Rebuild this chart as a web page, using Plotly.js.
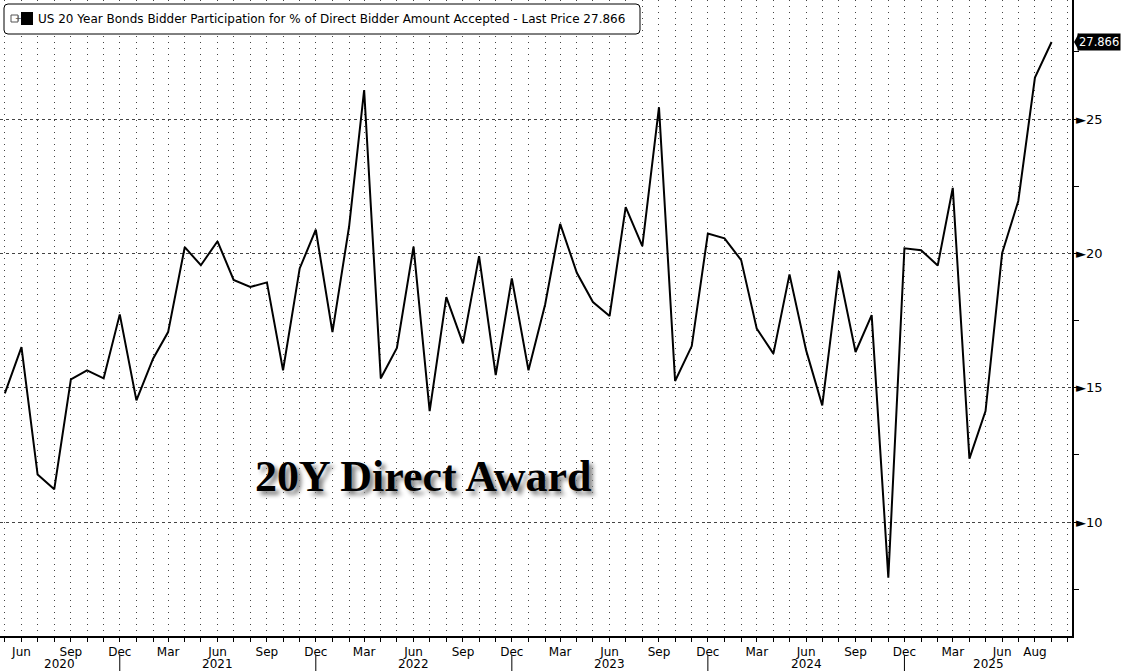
<!DOCTYPE html>
<html>
<head>
<meta charset="utf-8">
<script src="https://cdn.plot.ly/plotly-3.0.1.min.js"></script>
<style>
html,body{margin:0;padding:0;background:#fff;}
#chart{width:1122px;height:671px;}
</style>
</head>
<body>
<div id="chart"></div>
<script>
// ---- Data ----
const startYear = 2020, startMonth = 5; // first observation: May 2020
const values = [14.79,16.51,11.77,11.22,15.31,15.65,15.35,17.73,14.53,16.08,
  17.07,20.23,19.56,20.45,19.01,18.75,18.92,15.65,19.44,20.88,
  17.07,21.0,26.08,15.35,16.48,20.25,14.13,18.37,16.65,19.90,
  15.47,19.07,15.65,18.10,21.10,19.28,18.19,17.67,21.72,20.27,
  25.44,15.25,16.55,20.74,20.56,19.75,17.20,16.27,19.22,16.39,
  14.34,19.34,16.33,17.70,7.93,20.19,20.12,19.55,22.44,12.36,
  14.13,20.02,21.95,26.54,27.866];
const tickDates = ['2020-06-01','2020-09-01','2020-12-01','2021-03-01','2021-06-01','2021-09-01','2021-12-01',
  '2022-03-01','2022-06-01','2022-09-01','2022-12-01','2023-03-01','2023-06-01','2023-09-01','2023-12-01',
  '2024-03-01','2024-06-01','2024-09-01','2024-12-01','2025-03-01','2025-06-01','2025-08-01'];
const tickLabels = ['Jun','Sep','Dec','Mar','Jun','Sep','Dec','Mar','Jun','Sep','Dec','Mar','Jun','Sep','Dec',
  'Mar','Jun','Sep','Dec','Mar','Jun','Aug'];
const yearLabels = ['2020','2021','2022','2023','2024','2025'];
const yearSeparators = ['2020-12-01','2021-12-01','2022-12-01','2023-12-01','2024-12-01'];
const yTickVals = [10,15,20,25];
const seriesName = 'US 20 Year Bonds Bidder Participation for % of Direct Bidder Amount Accepted - Last Price';
const chartLabel = '20Y Direct Award';

// ---- Build dates ----
function pad(n){return (n<10?'0':'')+n;}
const dates = values.map((v,i)=>{
  const m = startMonth - 1 + i;
  const y = startYear + Math.floor(m/12);
  return y + '-' + pad(m%12 + 1) + '-01';
});
const lastVal = values[values.length-1];

const xRange = ['2020-04-22','2025-10-09'];
const yRange = [5.76, 29.43];

// year label positions: midpoints between separators / range edges
const bounds = [xRange[0]].concat(yearSeparators).concat([xRange[1]]);
const yearAnn = yearLabels.map((t,i)=>{
  const a = new Date(bounds[i]).getTime(), b = new Date(bounds[i+1]).getTime();
  const mid = new Date((a+b)/2).toISOString().slice(0,10);
  return {x: mid, xref:'x', y: 0, yref:'paper', yanchor:'top', yshift:-19, text: t, showarrow:false,
    font:{family:'DejaVu Sans', size:12, color:'#000'}};
});

const sepShapes = yearSeparators.map(d=>({type:'line', xref:'x', yref:'paper', x0:d, x1:d,
  y0:-0.030, y1:-0.06, line:{color:'#000', width:1}}));

const trace = {
  x: dates, y: values, type:'scatter', mode:'lines',
  line:{color:'#000', width:2}, hoverinfo:'x+y', showlegend:false
};

const layout = {
  width:1122, height:671,
  margin:{l:0, r:50, t:0, b:35},
  paper_bgcolor:'#fff', plot_bgcolor:'#fff',
  font:{family:'DejaVu Sans', color:'#000'},
  xaxis:{
    type:'date', range:xRange,
    tickvals: tickDates, ticktext: tickLabels, tickmode:'array',
    ticks:'outside', ticklen:4, tickcolor:'#000',
    showgrid:true, gridcolor:'#444', gridwidth:1, griddash:'1px,5px',
    minor:{dtick:'M1', tick0:'2020-01-01', showgrid:true, gridcolor:'#444', gridwidth:1, griddash:'1px,5px',
      ticks:'outside', ticklen:4, tickcolor:'#000'},
    showline:true, linecolor:'#000', linewidth:1.5,
    tickfont:{family:'DejaVu Sans', size:12, color:'#000'},
    zeroline:false, fixedrange:true
  },
  yaxis:{
    side:'right', range:yRange,
    tickvals: yTickVals, ticktext: yTickVals.map(v=>'\u25BA'+v), tickmode:'array',
    ticks:'', 
    minor:{dtick:2.5, tick0:0, ticks:'outside', ticklen:5, tickcolor:'#000', showgrid:false},
    showgrid:true, gridcolor:'#444', gridwidth:1, griddash:'3px,3px',
    showline:true, linecolor:'#000', linewidth:1.5,
    tickfont:{family:'DejaVu Sans', size:13, color:'#000'},
    zeroline:false, fixedrange:true
  },
  shapes: sepShapes.concat([
    // legend rounded box
    {type:'path', xref:'paper', yref:'paper', xsizemode:'pixel', ysizemode:'pixel', xanchor:0, yanchor:1,
     path:'M 8,-4 L 636,-4 Q 640,-4 640,-8 L 640,-30 Q 640,-34 636,-34 L 8,-34 Q 4,-34 4,-30 L 4,-8 Q 4,-4 8,-4 Z',
     fillcolor:'#fff', line:{color:'#000', width:1}, layer:'above'},
    // small boxed plus icon
    {type:'rect', xref:'paper', yref:'paper', xsizemode:'pixel', ysizemode:'pixel', xanchor:0, yanchor:1,
     x0:11, x1:18, y0:-15, y1:-22, fillcolor:'#fff', line:{color:'#555', width:1}, layer:'above'},
    // black legend square
    {type:'rect', xref:'paper', yref:'paper', xsizemode:'pixel', ysizemode:'pixel', xanchor:0, yanchor:1,
     x0:21, x1:33, y0:-12, y1:-25, fillcolor:'#000', line:{color:'#000', width:0}, layer:'above'},
    // last price pointer
    {type:'path', xref:'paper', yref:'y', xsizemode:'pixel', ysizemode:'pixel', xanchor:1, yanchor:lastVal,
     path:'M 2,0 L 7,-9 L 7,9 Z', fillcolor:'#000', line:{color:'#000', width:0}, layer:'above'}
  ]),
  annotations: yearAnn.concat([
    {xref:'paper', yref:'paper', x:0, y:1, xanchor:'left', yanchor:'middle', xshift:36, yshift:-19,
     text: seriesName + ' ' + lastVal.toFixed(3), showarrow:false,
     font:{family:'DejaVu Sans', size:12, color:'#000'}},
    {xref:'paper', yref:'paper', x:0, y:1, xanchor:'left', yanchor:'middle', xshift:12.5, yshift:-18.5,
     text:'+', showarrow:false, font:{family:'DejaVu Sans', size:8, color:'#555'}},
    {xref:'paper', yref:'y', x:1, y:lastVal, xanchor:'left', yanchor:'middle', xshift:5,
     text: lastVal.toFixed(3), showarrow:false, bgcolor:'#000', borderpad:1,
     font:{family:'DejaVu Sans', size:11.5, color:'#fff'}},
    {xref:'x', yref:'y', x:'2022-06-18', y:11.7, xanchor:'center', yanchor:'middle',
     text:'<b>'+chartLabel+'</b>', showarrow:false,
     font:{family:'Liberation Serif', size:44, color:'#000', shadow:'4px 4px 4px #888'}}
  ])
};

Plotly.newPlot('chart', [trace], layout, {displayModeBar:false, staticPlot:true});
</script>
</body>
</html>
